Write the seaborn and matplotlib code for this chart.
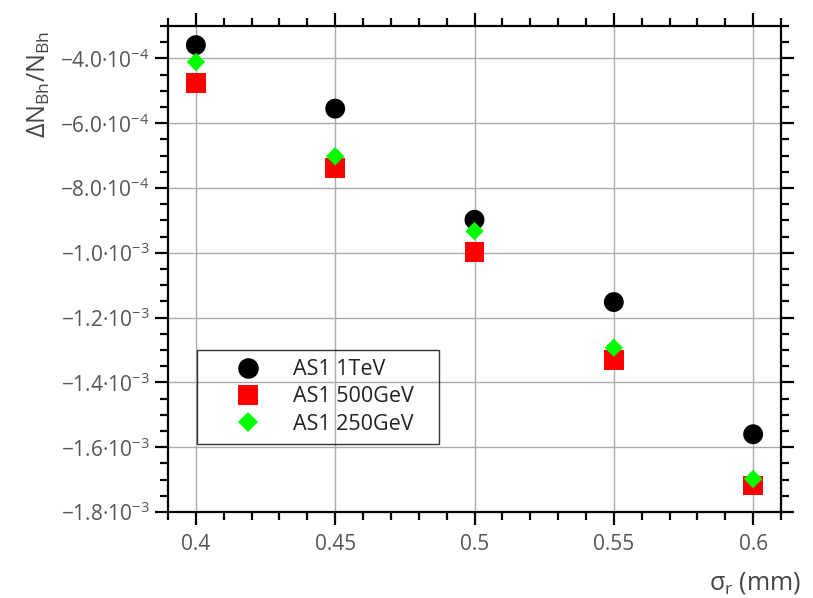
import numpy as np
import pandas as pd
import matplotlib
matplotlib.use("Agg")
import matplotlib.pyplot as plt
from matplotlib.ticker import MultipleLocator, FuncFormatter, FixedLocator
from matplotlib.lines import Line2D
import seaborn as sns

# data
sigma_r = [0.40, 0.45, 0.50, 0.55, 0.60]
as1_1tev = [-3.59e-4, -5.55e-4, -8.98e-4, -1.152e-3, -1.560e-3]
as1_500gev = [-4.75e-4, -7.38e-4, -9.97e-4, -1.331e-3, -1.718e-3]
as1_250gev = [-4.11e-4, -7.02e-4, -9.33e-4, -1.293e-3, -1.698e-3]
series_names = ["AS1 1TeV", "AS1 500GeV", "AS1 250GeV"]
x_ticks = [0.4, 0.45, 0.5, 0.55, 0.6]
x_tick_labels = ["0.4", "0.45", "0.5", "0.55", "0.6"]

sns.set_style("white")
plt.rcParams['font.family'] = ['Open Sans', 'DejaVu Sans']
plt.rcParams['mathtext.fontset'] = 'custom'
plt.rcParams['mathtext.rm'] = 'Open Sans'
plt.rcParams['mathtext.it'] = 'Open Sans:italic'

df = pd.DataFrame({
    'sigma_r': sigma_r * 3,
    'value': as1_1tev + as1_500gev + as1_250gev,
    'series': [n for n in series_names for _ in sigma_r],
})

styles = {
    "AS1 1TeV": dict(marker='o', color='black', s=205),
    "AS1 500GeV": dict(marker='s', color='#ff0000', s=200),
    "AS1 250GeV": dict(marker='D', color='#00ff00', s=88),
}

fig = plt.figure(figsize=(8.13, 5.98), dpi=100)
ax = fig.add_axes([168 / 813, 1 - 512 / 598, 613 / 813, 486 / 598])

for name in series_names:
    st = styles[name]
    sns.scatterplot(data=df[df['series'] == name], x='sigma_r', y='value',
                    marker=st['marker'], color=st['color'], s=st['s'],
                    edgecolor='none', linewidth=0, ax=ax, zorder=3, legend=False)

ax.set_xlim(0.39, 0.61)
ax.set_ylim(-1.8e-3, -3.0e-4)

ax.xaxis.set_major_locator(FixedLocator(x_ticks))
ax.set_xticklabels(x_tick_labels)
ax.xaxis.set_minor_locator(MultipleLocator(0.01))
ax.yaxis.set_major_locator(MultipleLocator(2e-4))
ax.yaxis.set_minor_locator(MultipleLocator(5e-5))


def sci_fmt(v, pos):
    if v == 0:
        return "0"
    e = int(np.floor(np.log10(abs(v)) + 1e-9))
    m = v / 10 ** e
    sign = "\u2212" if m < 0 else ""
    return f"{sign}{abs(m):.1f}\u00b710$^{{\u2212{abs(e)}}}$"


ax.yaxis.set_major_formatter(FuncFormatter(sci_fmt))

ax.grid(True, which='major', color='#ababab', linewidth=1.0)
ax.set_axisbelow(True)

for sp in ax.spines.values():
    sp.set_visible(True)
    sp.set_color('black')
    sp.set_linewidth(1.6)

ax.tick_params(which='both', direction='out', bottom=True, left=True, top=True, right=True,
               labelbottom=True, labelleft=True, labeltop=False, labelright=False,
               color='black', width=1.6)
ax.tick_params(which='major', length=9.5, labelsize=15, labelcolor='#555555')
ax.tick_params(axis='x', which='major', pad=6)
ax.tick_params(axis='y', which='major', pad=4)
ax.tick_params(which='minor', length=5.8)

ax.set_ylabel(r"$\Delta$N$_{\mathrm{Bh}}$/N$_{\mathrm{Bh}}$", fontsize=18,
              color='#444444', rotation=90, ha='right', va='center')
ax.yaxis.set_label_coords(-0.21, 0.99)
ax.set_xlabel(r"σ$_{\mathrm{r}}$ (mm)", fontsize=18, color='#444444',
              ha='right', va='center')
ax.xaxis.set_label_coords(1.033, -0.146)

handles = [
    Line2D([], [], linestyle='none', marker='o', color='black', markersize=14.8, markeredgewidth=0),
    Line2D([], [], linestyle='none', marker='s', color='#ff0000', markersize=14.4, markeredgewidth=0),
    Line2D([], [], linestyle='none', marker='D', color='#00ff00', markersize=10.2, markeredgewidth=0),
]
leg = ax.legend(handles, series_names, loc='upper left',
                bbox_to_anchor=(29 / 613, 68 / 486, 242 / 613, 94 / 486), mode='expand',
                frameon=True, fancybox=False, edgecolor='black',
                fontsize=15.5, handlelength=3.94, handletextpad=0.12, labelspacing=0.3,
                borderpad=0.42, borderaxespad=0)
leg.get_frame().set_linewidth(1.0)
leg.get_frame().set_facecolor('none')
for t in leg.get_texts():
    t.set_color('#222222')

fig.savefig("out.png", dpi=100)
